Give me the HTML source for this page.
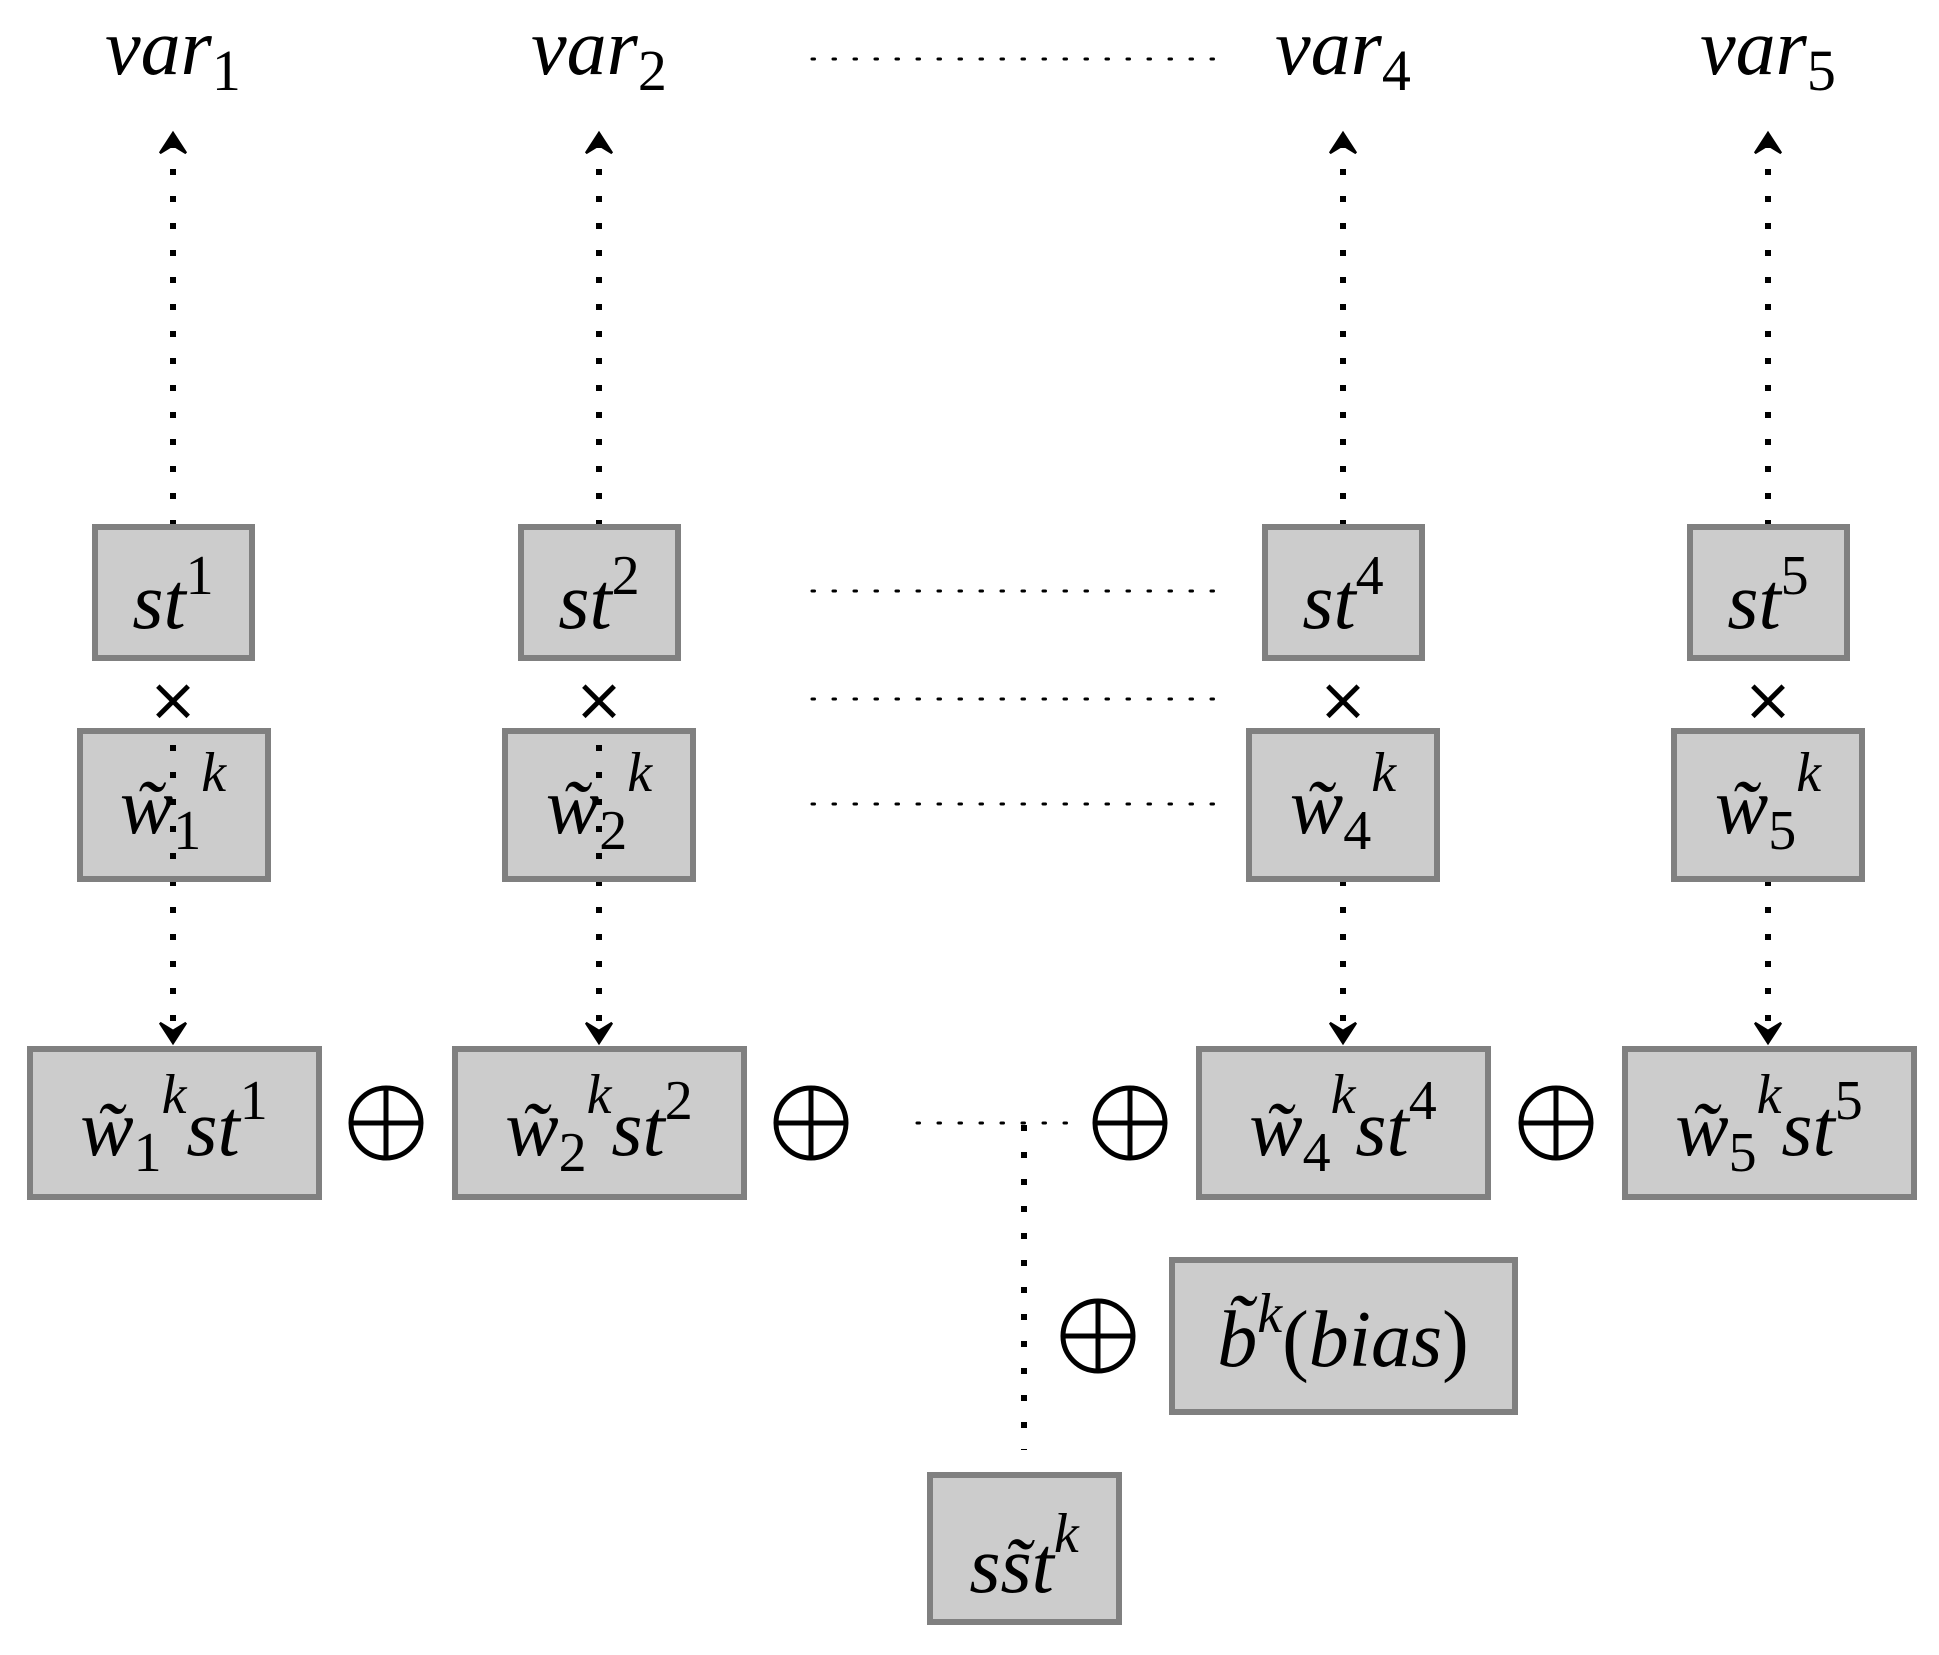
<!DOCTYPE html>
<html><head><meta charset="utf-8"><style>html,body{margin:0;padding:0;background:#fff}svg{display:block}</style></head>
<body>
<svg width="1939" height="1655" viewBox="0 0 1939 1655" xmlns="http://www.w3.org/2000/svg" font-family="'Liberation Serif', serif" font-style="italic">
<g stroke="#000" stroke-width="6" stroke-dasharray="6 21" fill="none">
<line x1="173" y1="526" x2="173" y2="130"/><line x1="599" y1="526" x2="599" y2="130"/><line x1="1343" y1="526" x2="1343" y2="130"/><line x1="1768" y1="526" x2="1768" y2="130"/>
<line x1="173" y1="880" x2="173" y2="1040"/><line x1="599" y1="880" x2="599" y2="1040"/><line x1="1343" y1="880" x2="1343" y2="1040"/><line x1="1768" y1="880" x2="1768" y2="1040"/>
<line x1="1024" y1="1125" x2="1024" y2="1450"/>
</g>
<g stroke="#000" stroke-width="2.5" stroke-linecap="round">
<path d="M173,133 l-13,20 l13,-8 l13,8 z M599,133 l-13,20 l13,-8 l13,8 z M1343,133 l-13,20 l13,-8 l13,8 z M1768,133 l-13,20 l13,-8 l13,8 z" fill="#000"/>
<path d="M173,1043 l-13,-20 l13,8 l13,-8 z M599,1043 l-13,-20 l13,8 l13,-8 z M1343,1043 l-13,-20 l13,8 l13,-8 z M1768,1043 l-13,-20 l13,8 l13,-8 z" fill="#000"/>
</g>
<g stroke="#000" stroke-width="3" stroke-dasharray="2.5 18.5" stroke-linecap="round">
<line x1="812" y1="59" x2="1224" y2="59"/><line x1="812" y1="591" x2="1224" y2="591"/><line x1="812" y1="699" x2="1224" y2="699"/><line x1="812" y1="804" x2="1224" y2="804"/><line x1="917" y1="1123" x2="1072" y2="1123"/>
</g>
<g fill="#cccccc" stroke="#808080" stroke-width="6">
<rect x="95" y="527" width="157" height="131"/><rect x="521" y="527" width="157" height="131"/><rect x="1265" y="527" width="157" height="131"/><rect x="1690" y="527" width="157" height="131"/>
<rect x="80" y="731" width="188" height="148"/><rect x="505" y="731" width="188" height="148"/><rect x="1249" y="731" width="188" height="148"/><rect x="1674" y="731" width="188" height="148"/>
<rect x="30" y="1049" width="289" height="148"/><rect x="455" y="1049" width="289" height="148"/><rect x="1199" y="1049" width="289" height="148"/><rect x="1625" y="1049" width="289" height="148"/>
<rect x="1172" y="1260" width="343" height="152"/><rect x="930" y="1475" width="189" height="147"/>
</g>
<g stroke="#000" stroke-width="6" stroke-dasharray="6 21" fill="none">
<line x1="173" y1="745" x2="173" y2="870"/><line x1="599" y1="745" x2="599" y2="870"/>
</g>
<g stroke="#000" stroke-width="5" fill="none">
<circle cx="386" cy="1123" r="35"/><path d="M351,1123h70M386,1088v70"/>
<circle cx="811" cy="1123" r="35"/><path d="M776,1123h70M811,1088v70"/>
<circle cx="1130" cy="1123" r="35"/><path d="M1095,1123h70M1130,1088v70"/>
<circle cx="1556" cy="1123" r="35"/><path d="M1521,1123h70M1556,1088v70"/>
<circle cx="1098" cy="1336" r="35"/><path d="M1063,1336h70M1098,1301v70"/>
</g>
<g font-size="80" text-anchor="middle" fill="#000">
<text x="173" y="74">var<tspan font-style="normal" font-size="58" dy="16">1</tspan></text>
<text x="599" y="74">var<tspan font-style="normal" font-size="58" dy="16">2</tspan></text>
<text x="1343" y="74">var<tspan font-style="normal" font-size="58" dy="16">4</tspan></text>
<text x="1768" y="74">var<tspan font-style="normal" font-size="58" dy="16">5</tspan></text>
<text x="173" y="628">st<tspan font-style="normal" font-size="56" dy="-34">1</tspan></text>
<text x="599" y="628">st<tspan font-style="normal" font-size="56" dy="-34">2</tspan></text>
<text x="1343" y="628">st<tspan font-style="normal" font-size="56" dy="-34">4</tspan></text>
<text x="1768" y="628">st<tspan font-style="normal" font-size="56" dy="-34">5</tspan></text>
<text x="173" y="833">w̃<tspan font-style="normal" font-size="56" dy="16">1</tspan><tspan font-size="56" dy="-58">k</tspan></text>
<text x="599" y="833">w̃<tspan font-style="normal" font-size="56" dy="16">2</tspan><tspan font-size="56" dy="-58">k</tspan></text>
<text x="1343" y="833">w̃<tspan font-style="normal" font-size="56" dy="16">4</tspan><tspan font-size="56" dy="-58">k</tspan></text>
<text x="1768" y="833">w̃<tspan font-style="normal" font-size="56" dy="16">5</tspan><tspan font-size="56" dy="-58">k</tspan></text>
<text x="174" y="1155">w̃<tspan font-style="normal" font-size="56" dy="16">1</tspan><tspan font-size="56" dy="-58">k</tspan><tspan dy="42">st</tspan><tspan font-style="normal" font-size="56" dy="-36">1</tspan></text>
<text x="599" y="1155">w̃<tspan font-style="normal" font-size="56" dy="16">2</tspan><tspan font-size="56" dy="-58">k</tspan><tspan dy="42">st</tspan><tspan font-style="normal" font-size="56" dy="-36">2</tspan></text>
<text x="1343" y="1155">w̃<tspan font-style="normal" font-size="56" dy="16">4</tspan><tspan font-size="56" dy="-58">k</tspan><tspan dy="42">st</tspan><tspan font-style="normal" font-size="56" dy="-36">4</tspan></text>
<text x="1769" y="1155">w̃<tspan font-style="normal" font-size="56" dy="16">5</tspan><tspan font-size="56" dy="-58">k</tspan><tspan dy="42">st</tspan><tspan font-style="normal" font-size="56" dy="-36">5</tspan></text>
<text x="1343" y="1366">b̃<tspan font-size="56" dy="-34">k</tspan><tspan font-style="normal" dy="34">(</tspan>bias<tspan font-style="normal">)</tspan></text>
<text x="1024" y="1592">ss̃t<tspan font-size="56" dy="-40">k</tspan></text>
</g>
<g font-family="'DejaVu Sans', sans-serif" font-size="60" text-anchor="middle" fill="#000">
<text x="173" y="720">×</text><text x="599" y="720">×</text><text x="1343" y="720">×</text><text x="1768" y="720">×</text>
</g>
</svg>
</body></html>
